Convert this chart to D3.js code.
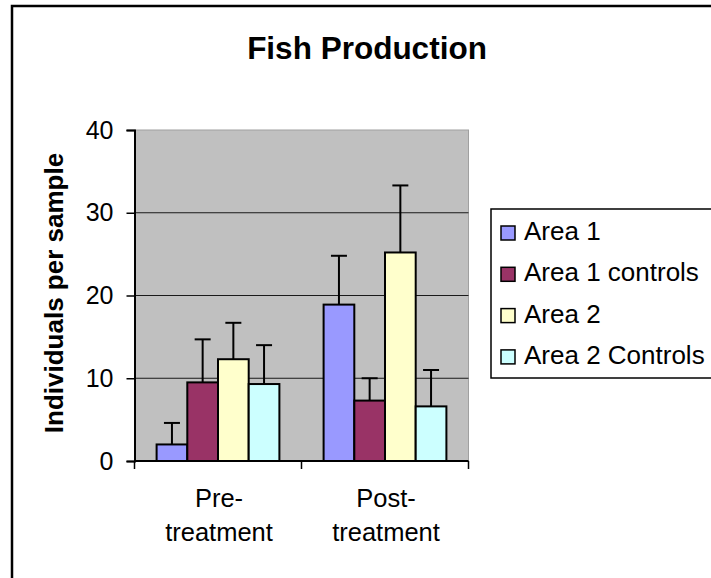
<!DOCTYPE html>
<html>
<head>
<meta charset="utf-8">
<script src="https://cdn.jsdelivr.net/npm/d3@7"></script>
<style>
  body { margin: 0; background: #fff; }
  svg { display: block; font-family: "Liberation Sans", Arial, sans-serif; }
</style>
</head>
<body>
<svg id="chart" width="711" height="578"></svg>
<script>
// data
const categories = [["Pre-", "treatment"], ["Post-", "treatment"]];
const seriesNames = ["Area 1", "Area 1 controls", "Area 2", "Area 2 Controls"];
const seriesColors = ["#9999ff", "#993366", "#ffffcc", "#ccffff"];
const means = [
  [2.0, 18.9],
  [9.5, 7.3],
  [12.3, 25.2],
  [9.3, 6.6]
];
const errors = [
  [2.6, 5.9],
  [5.2, 2.7],
  [4.4, 8.1],
  [4.7, 4.4]
];
const yTicks = [0, 10, 20, 30, 40];

const svg = d3.select("#chart");

// outer frame (runs off the right and bottom edges)
svg.append("rect")
  .attr("x", 12).attr("y", 6)
  .attr("width", 760).attr("height", 640)
  .attr("fill", "#fff")
  .attr("stroke", "#000")
  .attr("stroke-width", 2.5);

const plot = { left: 134.5, right: 468.5, top: 130, bottom: 461 };

const x0 = d3.scaleBand()
  .domain(d3.range(categories.length))
  .range([plot.left, plot.right]);

const x1 = d3.scaleBand()
  .domain(d3.range(seriesNames.length))
  .range([0, x0.bandwidth()])
  .paddingOuter(0.72);

const y = d3.scaleLinear()
  .domain([0, 40])
  .range([plot.bottom, plot.top]);

// plot area
svg.append("rect")
  .attr("x", plot.left).attr("y", plot.top)
  .attr("width", plot.right - plot.left)
  .attr("height", plot.bottom - plot.top)
  .attr("fill", "#c0c0c0")
  .attr("stroke", "#a0a0a0")
  .attr("stroke-width", 1);

// gridlines
svg.append("g")
  .selectAll("line")
  .data(yTicks.filter(d => d > 0 && d < 40))
  .join("line")
  .attr("x1", plot.left).attr("x2", plot.right)
  .attr("y1", d => y(d)).attr("y2", d => y(d))
  .attr("stroke", "#1a1a1a")
  .attr("stroke-width", 1);

// y axis
const yAxis = svg.append("g")
  .attr("transform", `translate(${plot.left},0)`)
  .call(d3.axisLeft(y).tickValues(yTicks).tickSize(8).tickPadding(13));
yAxis.select(".domain").attr("stroke-width", 2);
yAxis.selectAll(".tick line").attr("stroke-width", 1.5);
yAxis.selectAll("text")
  .attr("font-size", 25)
  .attr("font-family", "Liberation Sans, Arial, sans-serif")
  .attr("fill", "#000");

// bars
const groups = svg.append("g")
  .selectAll("g")
  .data(seriesNames.map((name, i) => ({ name, i })))
  .join("g")
  .attr("fill", d => seriesColors[d.i]);

groups.selectAll("rect")
  .data(d => means[d.i].map((v, c) => ({ s: d.i, c, v })))
  .join("rect")
  .attr("x", d => x0(d.c) + x1(d.s))
  .attr("y", d => y(d.v))
  .attr("width", x1.bandwidth())
  .attr("height", d => y(0) - y(d.v))
  .attr("stroke", "#000")
  .attr("stroke-width", 2);

// error bars (plus side only)
const capW = 16;
const errG = svg.append("g").attr("stroke", "#000").attr("stroke-width", 2);
seriesNames.forEach((name, s) => {
  means[s].forEach((v, c) => {
    const cx = x0(c) + x1(s) + x1.bandwidth() / 2;
    const top = y(v + errors[s][c]);
    errG.append("line")
      .attr("x1", cx).attr("x2", cx)
      .attr("y1", y(v)).attr("y2", top);
    errG.append("line")
      .attr("x1", cx - capW / 2).attr("x2", cx + capW / 2)
      .attr("y1", top).attr("y2", top);
  });
});

// x axis
const xAxis = svg.append("g")
  .attr("transform", `translate(0,${plot.bottom})`);
xAxis.append("line")
  .attr("x1", plot.left).attr("x2", plot.right)
  .attr("stroke", "#000").attr("stroke-width", 2);
xAxis.selectAll(".tk")
  .data(d3.range(categories.length + 1))
  .join("line")
  .attr("class", "tk")
  .attr("x1", d => plot.left + d * x0.step())
  .attr("x2", d => plot.left + d * x0.step())
  .attr("y1", 0).attr("y2", 8)
  .attr("stroke", "#000").attr("stroke-width", 1.5);

xAxis.selectAll(".cat")
  .data(categories)
  .join("text")
  .attr("class", "cat")
  .attr("text-anchor", "middle")
  .attr("font-size", 25.5)
  .attr("x", (d, i) => x0(i) + x0.bandwidth() / 2 + 1)
  .attr("y", 46)
  .selectAll("tspan")
  .data(d => d)
  .join("tspan")
  .attr("x", function () { return d3.select(this.parentNode).attr("x"); })
  .attr("dy", (d, i) => i === 0 ? 0 : 34)
  .text(d => d);

// titles
svg.append("text")
  .attr("x", 367).attr("y", 59)
  .attr("text-anchor", "middle")
  .attr("font-size", 31.5)
  .attr("font-weight", "bold")
  .text("Fish Production");

svg.append("text")
  .attr("transform", "translate(63,293) rotate(-90)")
  .attr("text-anchor", "middle")
  .attr("font-size", 26)
  .attr("font-weight", "bold")
  .text("Individuals per sample");

// legend
const legend = svg.append("g");
legend.append("rect")
  .attr("x", 491).attr("y", 209)
  .attr("width", 260).attr("height", 169)
  .attr("fill", "#fff")
  .attr("stroke", "#000")
  .attr("stroke-width", 1.5);

const items = legend.selectAll(".item")
  .data(seriesNames)
  .join("g")
  .attr("class", "item")
  .attr("transform", (d, i) => `translate(0,${240 + i * 41.3})`);

items.append("rect")
  .attr("x", 501).attr("y", -14)
  .attr("width", 14).attr("height", 14)
  .attr("fill", (d, i) => seriesColors[i])
  .attr("stroke", "#000")
  .attr("stroke-width", 1.5);

items.append("text")
  .attr("x", 524)
  .attr("font-size", 26)
  .text(d => d);
</script>
</body>
</html>
